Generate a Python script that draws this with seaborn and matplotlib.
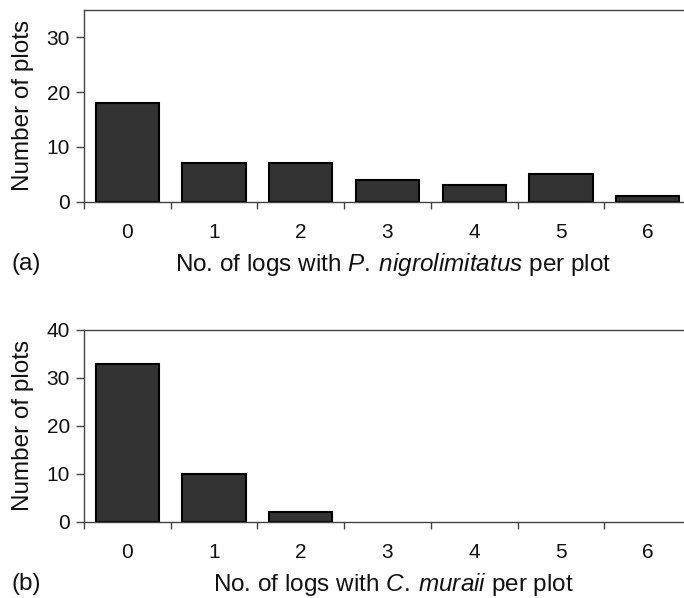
import numpy as np
import pandas as pd
import seaborn as sns
import matplotlib.pyplot as plt

logs = ["0", "1", "2", "3", "4", "5", "6"]
plots_nigro = [18, 7, 7, 4, 3, 5, 1]
plots_muraii = [33, 10, 2, 0, 0, 0, 0]

sns.set_style("white")
plt.rcParams['font.family'] = ['Liberation Sans', 'DejaVu Sans']
plt.rcParams['mathtext.fontset'] = 'custom'
plt.rcParams['mathtext.rm'] = 'Liberation Sans'
plt.rcParams['mathtext.it'] = 'Liberation Sans:italic'
plt.rcParams['text.color'] = '#111111'
plt.rcParams['axes.labelcolor'] = '#111111'
plt.rcParams['xtick.labelcolor'] = '#111111'
plt.rcParams['ytick.labelcolor'] = '#111111'

fig = plt.figure(figsize=(6.84, 5.98), dpi=100)
ax1 = fig.add_axes([0.1228, 0.6627, 0.8875, 0.3206])
ax2 = fig.add_axes([0.1228, 0.1276, 0.8875, 0.3206])

panels = [
    (ax1, plots_nigro, 35, [0, 10, 20, 30], "P.\\:nigrolimitatus", "(a)"),
    (ax2, plots_muraii, 40, [0, 10, 20, 30, 40], "C.\\:muraii", "(b)"),
]

for ax, vals, ymax, yt, species, tag in panels:
    df = pd.DataFrame({"logs": logs, "plots": vals})
    sns.barplot(data=df, x="logs", y="plots", ax=ax, color="#333333",
                saturation=1, width=0.73, edgecolor="black", linewidth=1.5)
    # empty classes show no outline
    for p in ax.patches:
        if p.get_height() == 0:
            p.set_linewidth(0)
    ax.set_xlim(-0.5, 6.5)
    ax.set_ylim(0, ymax)
    ax.set_yticks(yt)
    ax.set_xticks(np.arange(-0.5, 7.0, 1.0), minor=True)
    ax.tick_params(axis="x", which="major", length=0, pad=15, labelsize=15)
    ax.tick_params(axis="x", which="minor", length=5, width=1, color="#444444",
                   direction="out", bottom=True)
    ax.tick_params(axis="y", length=6, width=1, color="#444444", direction="out",
                   left=True, labelsize=15, pad=4)
    for s in ["left", "bottom", "top"]:
        ax.spines[s].set_color("#444444")
        ax.spines[s].set_linewidth(1)
    ax.spines["right"].set_visible(False)
    ax.set_ylabel("Number of plots", fontsize=17.5, va="center")
    ax.yaxis.set_label_coords(-0.1, 0.5)
    ax.set_xlabel("No. of logs with $\\mathit{" + species + "}$ per plot",
                  fontsize=17.5, va="center")
    ax.xaxis.set_label_coords(0.51, -0.325)
    ax.text(-0.119, -0.325, tag, transform=ax.transAxes, fontsize=17.5,
            ha="left", va="center")

fig.savefig("out.png", dpi=100)
